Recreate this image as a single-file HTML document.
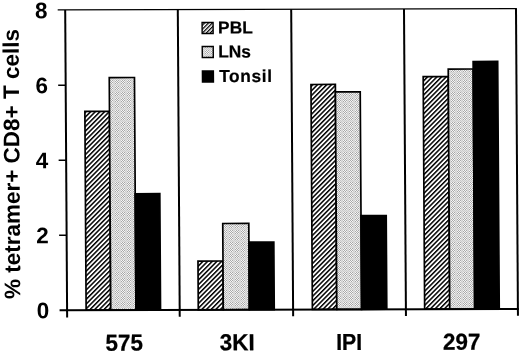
<!DOCTYPE html><html><head><meta charset="utf-8"><style>html,body{margin:0;padding:0;background:#fff;}svg{display:block;}text{font-family:"Liberation Sans",Arial,sans-serif;font-weight:bold;fill:#000;}</style></head><body>
<svg width="520" height="352" viewBox="0 0 520 352">
<defs>
<pattern id="hatch" patternUnits="userSpaceOnUse" width="3.3" height="3.3" patternTransform="rotate(45)"><rect width="3.3" height="3.3" fill="#fff"/><rect width="1.5" height="3.3" fill="#000"/></pattern>
<pattern id="dots" patternUnits="userSpaceOnUse" width="6" height="6" patternTransform="matrix(0.9999817 0.0028999 -0.0062999 0.9999817 0.06419 -0.18831)"><rect x="0" y="0" width="1" height="1" fill="#cbcbcb"/><rect x="0" y="1" width="1" height="1" fill="#e2e2e2"/><rect x="0" y="2" width="1" height="1" fill="#cbcbcb"/><rect x="0" y="3" width="1" height="1" fill="#e2e2e2"/><rect x="0" y="4" width="1" height="1" fill="#cbcbcb"/><rect x="0" y="5" width="1" height="1" fill="#e2e2e2"/><rect x="1" y="0" width="1" height="1" fill="#e2e2e2"/><rect x="1" y="1" width="1" height="1" fill="#cbcbcb"/><rect x="1" y="2" width="1" height="1" fill="#f6f6f6"/><rect x="1" y="3" width="1" height="1" fill="#a8a8a8"/><rect x="1" y="4" width="1" height="1" fill="#f6f6f6"/><rect x="1" y="5" width="1" height="1" fill="#a8a8a8"/><rect x="2" y="0" width="1" height="1" fill="#cbcbcb"/><rect x="2" y="1" width="1" height="1" fill="#e2e2e2"/><rect x="2" y="2" width="1" height="1" fill="#a8a8a8"/><rect x="2" y="3" width="1" height="1" fill="#f6f6f6"/><rect x="2" y="4" width="1" height="1" fill="#a8a8a8"/><rect x="2" y="5" width="1" height="1" fill="#f6f6f6"/><rect x="3" y="0" width="1" height="1" fill="#e2e2e2"/><rect x="3" y="1" width="1" height="1" fill="#cbcbcb"/><rect x="3" y="2" width="1" height="1" fill="#f6f6f6"/><rect x="3" y="3" width="1" height="1" fill="#a8a8a8"/><rect x="3" y="4" width="1" height="1" fill="#f6f6f6"/><rect x="3" y="5" width="1" height="1" fill="#a8a8a8"/><rect x="4" y="0" width="1" height="1" fill="#cbcbcb"/><rect x="4" y="1" width="1" height="1" fill="#e2e2e2"/><rect x="4" y="2" width="1" height="1" fill="#a8a8a8"/><rect x="4" y="3" width="1" height="1" fill="#f6f6f6"/><rect x="4" y="4" width="1" height="1" fill="#a8a8a8"/><rect x="4" y="5" width="1" height="1" fill="#f6f6f6"/><rect x="5" y="0" width="1" height="1" fill="#e2e2e2"/><rect x="5" y="1" width="1" height="1" fill="#cbcbcb"/><rect x="5" y="2" width="1" height="1" fill="#e2e2e2"/><rect x="5" y="3" width="1" height="1" fill="#cbcbcb"/><rect x="5" y="4" width="1" height="1" fill="#e2e2e2"/><rect x="5" y="5" width="1" height="1" fill="#cbcbcb"/></pattern>
<pattern id="hatch2" patternUnits="userSpaceOnUse" width="2.76" height="2.76" patternTransform="rotate(45) translate(0.46 0)"><rect width="2.76" height="2.76" fill="#fff"/><rect width="1.25" height="2.76" fill="#000"/></pattern>
</defs>
<rect width="520" height="352" fill="#fff"/>
<g transform="matrix(1 -0.0029 0.0063 1 -0.0630 0.1885)">
<rect x="84.24" y="111.45" width="24.60" height="198.75" fill="url(#hatch)" stroke="#000" stroke-width="1.7"/>
<rect x="108.84" y="77.70" width="25.20" height="232.50" fill="url(#dots)" stroke="#000" stroke-width="1.7"/>
<rect x="134.04" y="193.95" width="24.60" height="116.25" fill="#000" stroke="#000" stroke-width="1.7"/>
<rect x="196.40" y="261.45" width="25.00" height="48.75" fill="url(#hatch)" stroke="#000" stroke-width="1.7"/>
<rect x="221.40" y="223.95" width="26.05" height="86.25" fill="url(#dots)" stroke="#000" stroke-width="1.7"/>
<rect x="247.45" y="242.70" width="24.90" height="67.50" fill="#000" stroke="#000" stroke-width="1.7"/>
<rect x="310.50" y="85.20" width="24.40" height="225.00" fill="url(#hatch)" stroke="#000" stroke-width="1.7"/>
<rect x="334.90" y="92.70" width="24.80" height="217.50" fill="url(#dots)" stroke="#000" stroke-width="1.7"/>
<rect x="359.70" y="216.45" width="25.20" height="93.75" fill="#000" stroke="#000" stroke-width="1.7"/>
<rect x="422.76" y="77.70" width="25.10" height="232.50" fill="url(#hatch)" stroke="#000" stroke-width="1.7"/>
<rect x="447.86" y="70.20" width="24.94" height="240.00" fill="url(#dots)" stroke="#000" stroke-width="1.7"/>
<rect x="472.80" y="62.70" width="24.55" height="247.50" fill="#000" stroke="#000" stroke-width="1.7"/>
<line x1="65.2" y1="9.9" x2="65.2" y2="317.5" stroke="#000" stroke-width="2.0"/>
<line x1="57.7" y1="9.9" x2="516.8" y2="9.9" stroke="#000" stroke-width="1.25"/>
<line x1="57.7" y1="310.2" x2="517" y2="310.2" stroke="#000" stroke-width="2.0"/>
<line x1="177.8" y1="9.9" x2="177.8" y2="317" stroke="#000" stroke-width="2.0"/>
<line x1="291.2" y1="9.9" x2="291.2" y2="317" stroke="#000" stroke-width="2.0"/>
<line x1="404.0" y1="9.9" x2="404.0" y2="317" stroke="#000" stroke-width="2.0"/>
<line x1="516.0" y1="9.9" x2="516.0" y2="317" stroke="#000" stroke-width="2.0"/>
<line x1="57.7" y1="235.2" x2="65.2" y2="235.2" stroke="#000" stroke-width="1.6"/>
<line x1="57.7" y1="160.2" x2="65.2" y2="160.2" stroke="#000" stroke-width="1.6"/>
<line x1="57.7" y1="85.19999999999999" x2="65.2" y2="85.19999999999999" stroke="#000" stroke-width="1.6"/>
<text x="47.4" y="318.2" font-size="22.5" text-anchor="end">0</text>
<text x="47.4" y="243.2" font-size="22.5" text-anchor="end">2</text>
<text x="47.4" y="168.2" font-size="22.5" text-anchor="end">4</text>
<text x="47.4" y="93.2" font-size="22.5" text-anchor="end">6</text>
<text x="47.4" y="18.2" font-size="22.5" text-anchor="end">8</text>
<text x="122.2" y="350.8" font-size="23.2" text-anchor="middle" stroke="#000" stroke-width="0.25" transform="translate(122.2 0) scale(0.97 1) translate(-122.2 0)">575</text>
<text x="235.2" y="350.8" font-size="23.2" text-anchor="middle" stroke="#000" stroke-width="0.25" transform="translate(235.2 0) scale(0.97 1) translate(-235.2 0)">3KI</text>
<text x="347.1" y="350.8" font-size="23.2" text-anchor="middle" stroke="#000" stroke-width="0.25" transform="translate(347.1 0) scale(0.92 1) translate(-347.1 0)">IPI</text>
<text x="459.6" y="350.8" font-size="23.2" text-anchor="middle" stroke="#000" stroke-width="0.25" transform="translate(459.6 0) scale(0.97 1) translate(-459.6 0)">297</text>
<text x="0" y="0" font-size="22.5" text-anchor="middle" transform="translate(18.5 163.9) rotate(-90)">% tetramer+ CD8+ T cells</text>
<rect x="202.0" y="22.9" width="11" height="11" fill="url(#hatch2)" stroke="#000" stroke-width="1.4"/>
<text x="217.9" y="34.0" font-size="17.4" stroke="#000" stroke-width="0.2">PBL</text>
<rect x="202.0" y="46.9" width="11" height="11" fill="url(#dots)" stroke="#000" stroke-width="1.4"/>
<text x="217.9" y="58.0" font-size="17.4" stroke="#000" stroke-width="0.2">LNs</text>
<rect x="202.0" y="71.4" width="11" height="11" fill="#000" stroke="#000" stroke-width="1.4"/>
<text x="218.7" y="82.5" font-size="17.4" stroke="#000" stroke-width="0.2" letter-spacing="0.6">Tonsil</text>
</g></svg></body></html>
